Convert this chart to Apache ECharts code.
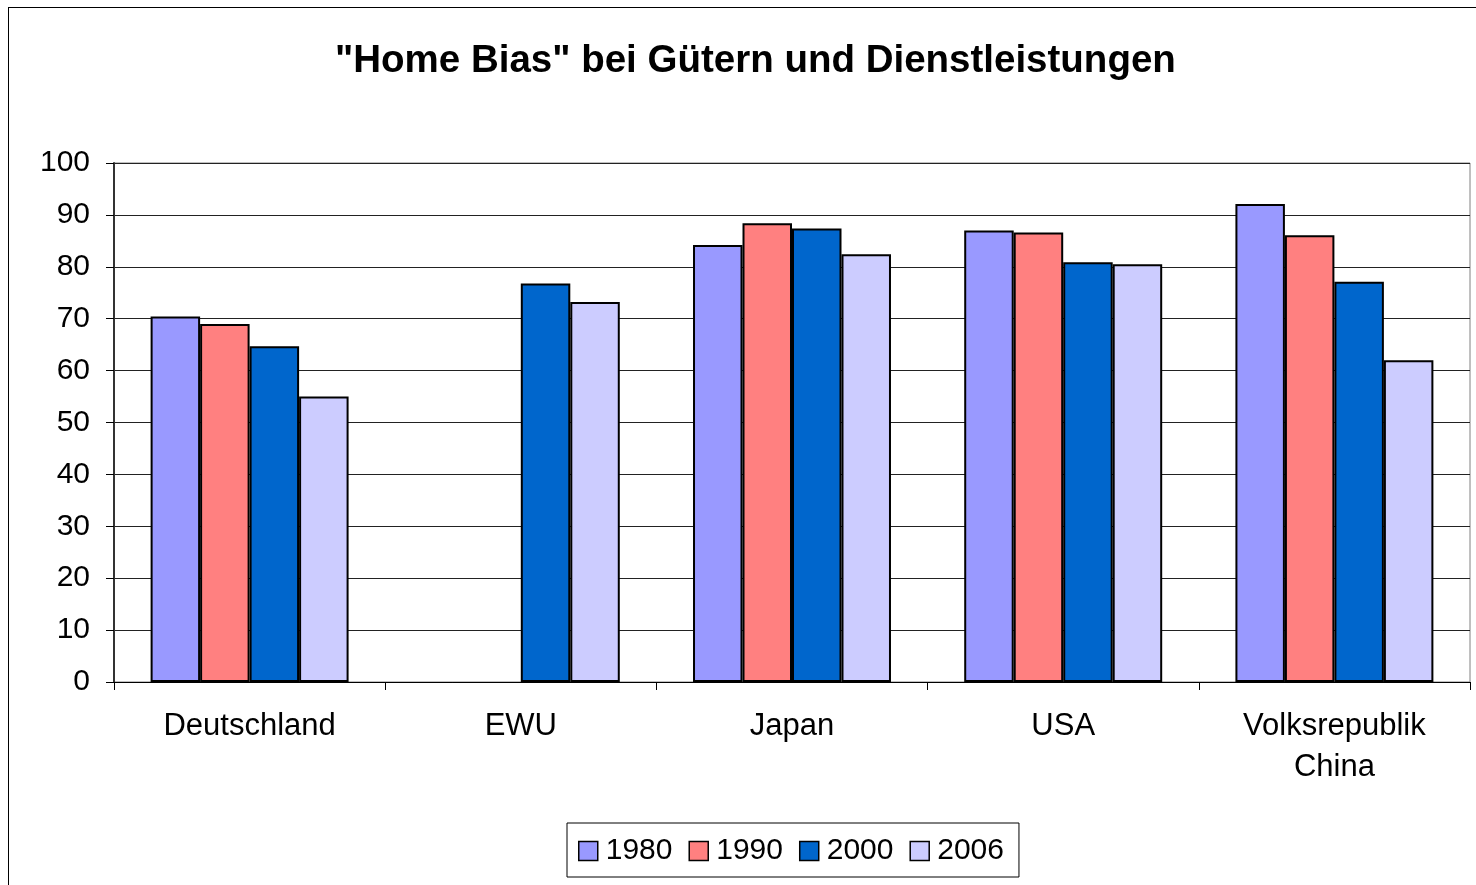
<!DOCTYPE html>
<html>
<head>
<meta charset="utf-8">
<script src="https://cdn.jsdelivr.net/npm/echarts@6/dist/echarts.min.js"></script>
<style>
  html, body { margin: 0; padding: 0; background: #fff; }
  #main { width: 1476px; height: 885px; position: relative; }
  .frame { position: absolute; left: 8px; top: 7px; width: 1500px; height: 900px; border-left: 1px solid #000; border-top: 1px solid #000; pointer-events: none; }
</style>
</head>
<body>
<div id="main"></div>
<div class="frame"></div>
<script>
const countries = ['Deutschland', 'EWU', 'Japan', 'USA', 'Volksrepublik\nChina'];
const years = ['1980', '1990', '2000', '2006'];
const colors = ['#9999FF', '#FF8080', '#0066CC', '#CCCCFF'];

// '-' = kein Wert (EWU vor 2000)
const v1980 = [70.4, '-', 84.2, 87.0, 92.1];
const v1990 = [69.0, '-', 88.4, 86.6, 86.1];
const v2000 = [64.7, 76.8, 87.4, 80.9, 77.1];
const v2006 = [55.0, 73.2, 82.4, 80.5, 62.0];

const seriesData = [v1980, v1990, v2000, v2006];
const font = '"Liberation Sans", Arial, sans-serif';

const chart = echarts.init(document.getElementById('main'));

const option = {
  backgroundColor: '#fff',
  animation: false,
  title: {
    text: '"Home Bias" bei Gütern und Dienstleistungen',
    left: 330,
    top: 37,
    textStyle: { fontFamily: font, fontSize: 38.5, fontWeight: 'bold', color: '#000' }
  },
  legend: {
    data: years,
    left: 567,
    top: 823,
    orient: 'horizontal',
    icon: 'rect',
    itemWidth: 19,
    itemHeight: 19,
    itemGap: 16,
    padding: [10, 15, 8, 11],
    borderColor: '#000',
    borderWidth: 1,
    itemStyle: { borderColor: '#000', borderWidth: 1.5 },
    textStyle: { fontFamily: font, fontSize: 30, color: '#000', padding: [0, 0, 0, 3], lineHeight: 36 }
  },
  grid: {
    left: 114,
    right: 6,
    top: 163,
    bottom: 203,
    show: true,
    borderColor: '#808080',
    borderWidth: 1
  },
  xAxis: {
    type: 'category',
    data: countries,
    axisLine: { lineStyle: { color: '#000', width: 1 } },
    axisTick: { show: true, length: 8, inside: false, lineStyle: { color: '#000' } },
    axisLabel: {
      fontFamily: font, fontSize: 31, color: '#000', margin: 24, lineHeight: 41
    }
  },
  yAxis: {
    type: 'value',
    min: 0,
    max: 100,
    interval: 10,
    axisLine: { show: true, lineStyle: { color: '#333', width: 2 } },
    axisTick: { show: true, length: 8, lineStyle: { color: '#000' } },
    axisLabel: { fontFamily: font, fontSize: 30, color: '#000', margin: 24 },
    splitLine: { show: true, lineStyle: { color: '#222', width: 1 } }
  },
  series: years.map((y, i) => ({
    name: y,
    type: 'bar',
    data: seriesData[i],
    barGap: '0%',
    barCategoryGap: '27%',
    itemStyle: { color: colors[i], borderColor: '#000', borderWidth: 2 }
  }))
};

chart.setOption(option);
</script>
</body>
</html>
